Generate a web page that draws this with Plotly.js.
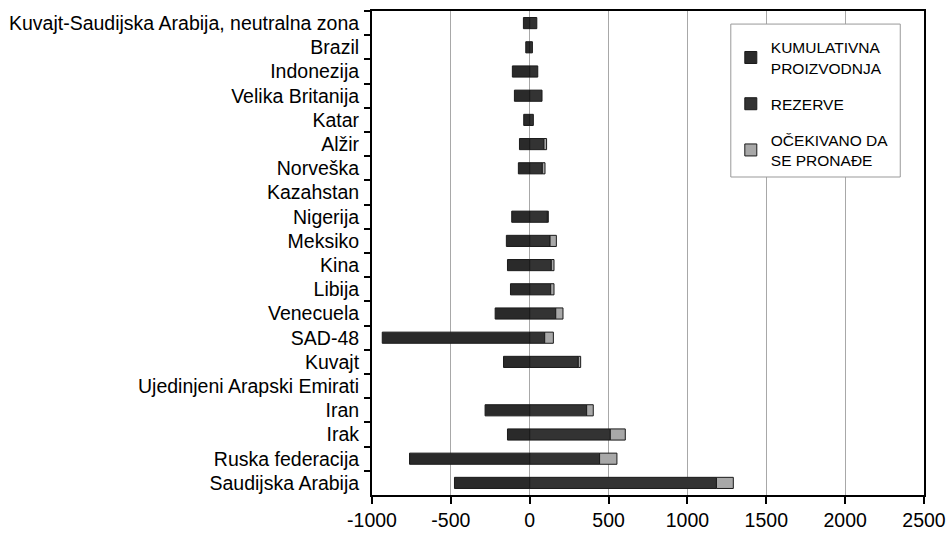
<!DOCTYPE html>
<html>
<head>
<meta charset="utf-8">
<script src="https://cdn.plot.ly/plotly-3.0.1.min.js"></script>
<style>html,body{margin:0;padding:0;background:#fff;}#chart{width:947px;height:533px;}</style>
</head>
<body>
<div id="chart"></div>
<script>
const countries = [
  "Kuvajt-Saudijska Arabija, neutralna zona",
  "Brazil",
  "Indonezija",
  "Velika Britanija",
  "Katar",
  "Alžir",
  "Norveška",
  "Kazahstan",
  "Nigerija",
  "Meksiko",
  "Kina",
  "Libija",
  "Venecuela",
  "SAD-48",
  "Kuvajt",
  "Ujedinjeni Arapski Emirati",
  "Iran",
  "Irak",
  "Ruska federacija",
  "Saudijska Arabija"
];
const cumulativeProduction = [-40, -25, -110, -97, -38, -65, -72, null, -114, -148, -141, -122, -219, -935, -166, null, -283, -141, -762, -477];
const reserves = [45, 17, 51, 78, 23, 90, 80, null, 112, 129, 137, 133, 165, 95, 308, null, 361, 511, 443, 1184];
const expectedToFind = [null, null, null, null, null, 17, 17, null, 6, 40, 17, 21, 46, 55, 15, null, 42, 95, 110, 107];
const xTicks = [-1000, -500, 0, 500, 1000, 1500, 2000, 2500];
const legendNames = ["KUMULATIVNA<br>PROIZVODNJA", "REZERVE", "OČEKIVANO DA<br>SE PRONAĐE"];

const outline = {color: "#1a1a1a", width: 1};
const traces = [
  {type: "bar", orientation: "h", y: countries, x: cumulativeProduction, name: legendNames[0],
   legendgroup: "a", marker: {color: "#2a2a2a", line: outline}},
  {type: "bar", orientation: "h", y: countries, x: reserves, name: legendNames[1],
   legendgroup: "b", marker: {color: "#333333", line: outline}},
  {type: "bar", orientation: "h", y: countries, x: expectedToFind, name: legendNames[2],
   legendgroup: "c", marker: {color: "#a8a8a8", line: outline}}
];

const layout = {
  width: 947, height: 533,
  margin: {l: 372, r: 23, t: 11, b: 38},
  paper_bgcolor: "#fff", plot_bgcolor: "#fff",
  barmode: "relative",
  bargap: 0.54,
  font: {family: "Liberation Sans, Arial, sans-serif", color: "#000", size: 19.5},
  xaxis: {
    range: [-1000, 2500], tickvals: xTicks, ticktext: xTicks.map(String),
    showgrid: true, gridcolor: "#a8a8a8", gridwidth: 1, zeroline: false,
    showline: true, linecolor: "#000", linewidth: 2, mirror: true,
    ticks: "outside", ticklen: 7, tickwidth: 2, tickcolor: "#000",
    ticklabelstandoff: 0,
    tickfont: {size: 19.5}, fixedrange: true
  },
  yaxis: {
    type: "category", autorange: "reversed", categoryorder: "array", categoryarray: countries,
    showgrid: false, zeroline: false,
    showline: true, linecolor: "#000", linewidth: 2, mirror: true,
    ticks: "outside", ticklen: 6, tickwidth: 2, tickcolor: "#000", tickson: "boundaries",
    ticklabelstandoff: 7,
    tickfont: {size: 19.5}, fixedrange: true
  },
  shapes: [{
    type: "rect", xref: "paper", yref: "paper", layer: "above",
    x0: 0.650, x1: 0.957, y0: 0.657, y1: 0.973,
    fillcolor: "#fff", line: {color: "#999", width: 1}
  }],
  legend: {
    x: 0.65, y: 0.959, xanchor: "left", yanchor: "top",
    bgcolor: "rgba(0,0,0,0)", borderwidth: 0,
    font: {size: 15.5, color: "#000"},
    traceorder: "grouped", tracegroupgap: 13, itemwidth: 30
  },
  showlegend: true
};

Plotly.newPlot("chart", traces, layout, {staticPlot: true, displayModeBar: false});
</script>
</body>
</html>
